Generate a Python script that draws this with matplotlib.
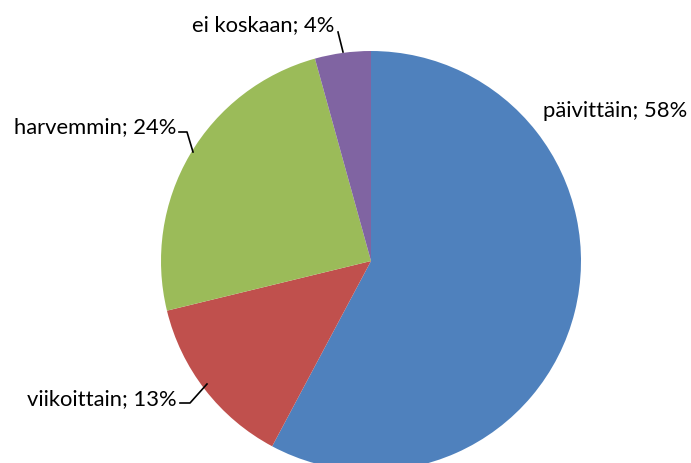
import matplotlib.pyplot as plt

# Data
labels = ['päivittäin', 'viikoittain', 'harvemmin', 'ei koskaan']
values = [57.8, 13.4, 24.5, 4.3]
shown = [58, 13, 24, 4]
colors = ['#4F81BD', '#C0504D', '#9BBB59', '#8064A2']

fig = plt.figure(figsize=(6.91, 4.64), dpi=100)
ax = fig.add_axes([0, 0, 1, 1])

ax.pie(values, colors=colors, startangle=90, counterclock=False,
       center=(371, 202), radius=210, frame=True)
ax.set_xlim(0, 691)
ax.set_ylim(0, 464)
ax.set_aspect('equal')
ax.axis('off')

font = dict(family=['Lato', 'DejaVu Sans'], fontsize=15.8, color='black', va='center')
txt = [f'{l}; {p}%' for l, p in zip(labels, shown)]

ax.text(543, 353, txt[0], ha='left', **font)
ax.text(177, 65, txt[1], ha='right', **font)
ax.text(176, 337, txt[2], ha='right', **font)
ax.text(334, 439, txt[3], ha='right', **font)

# leader lines
ax.plot([180, 190, 207], [60, 60, 79], color='black', lw=1.2)
ax.plot([179, 187, 193], [331, 331, 311], color='black', lw=1.2)
ax.plot([338, 343], [431, 411], color='black', lw=1.2)

plt.savefig('out.png', dpi=100)
